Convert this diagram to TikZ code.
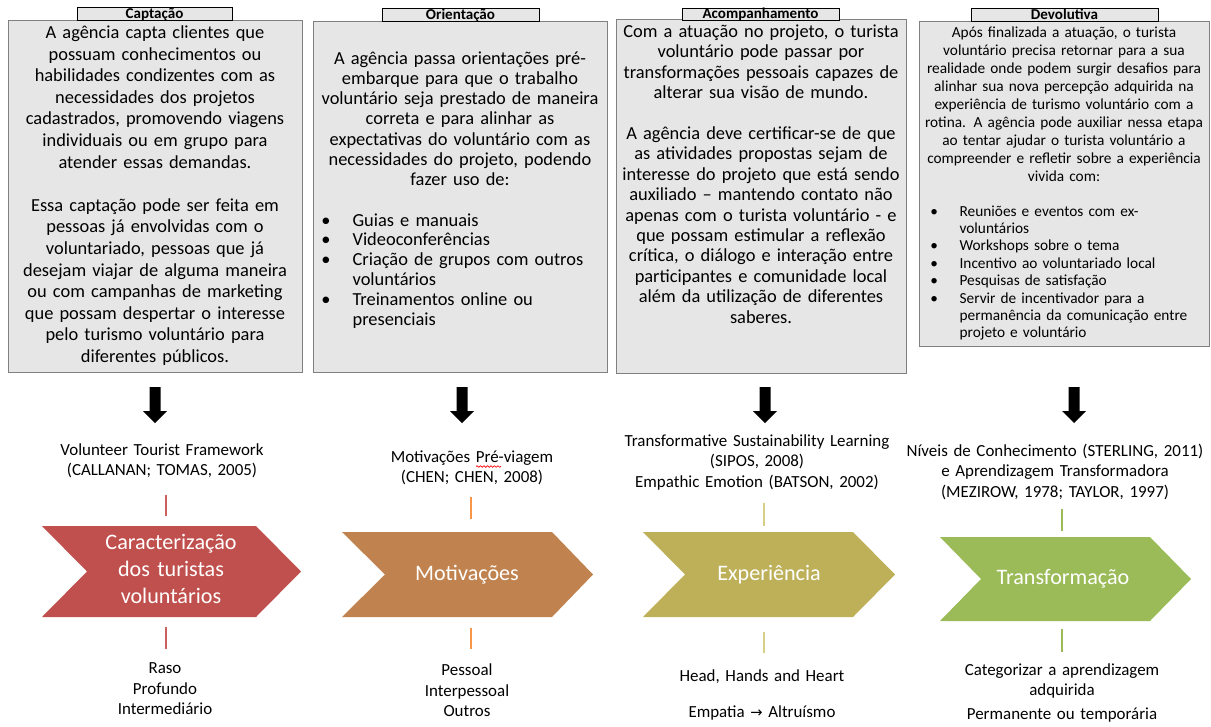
\documentclass[tikz,border=0pt]{standalone}
\usepackage{fontspec}
\setmainfont{Carlito}
\newfontfamily\symbolfont{DejaVu Sans}
\usetikzlibrary{fit,decorations.pathmorphing}

\definecolor{boxfill}{HTML}{E6E6E6}
\definecolor{boxline}{HTML}{808080}
\definecolor{chevA}{HTML}{C0504D}
\definecolor{chevB}{HTML}{C0834F}
\definecolor{chevC}{HTML}{BDB059}
\definecolor{chevD}{HTML}{9BBB59}
\definecolor{lineA}{HTML}{C9605D}
\definecolor{lineB}{HTML}{F79646}
\definecolor{lineC}{HTML}{D6CF85}
\definecolor{lineD}{HTML}{9BBB59}

\begin{document}
\begin{tikzpicture}[x=0.75pt,y=-0.75pt,
  panel/.style={draw=boxline, fill=boxfill, line width=0.75pt, inner sep=0pt},
  tabbox/.style={draw=black, fill=boxfill, line width=0.75pt, inner sep=0pt},
  tabtext/.style={anchor=base, inner sep=0pt, font=\bfseries\fontsize{11.3pt}{13pt}\selectfont},
  bodytext/.style={anchor=base, inner sep=0pt, align=center, text width=#1},
  listtext/.style={anchor=base west, inner sep=0pt, align=left, text width=#1},
  bigfont/.style={font=\fontsize{13.8pt}{#1}\selectfont},
  smallfont/.style={font=\fontsize{11.5pt}{#1}\selectfont},
  labeltext/.style={anchor=base, inner sep=0pt, align=center, text width=225pt,
    font=\fontsize{12.7pt}{15.5pt}\selectfont},
  chevtext/.style={anchor=base, inner sep=0pt, align=center, text width=150pt,
    text=white, font=\fontsize{16.6pt}{20.3pt}\selectfont},
  stem/.style={line width=0.9pt},
  blockdown/.pic={\fill[black] (-5.5,0) -- (5.5,0) -- (5.5,24) -- (12,24) -- (0,36)
      -- (-12,24) -- (-5.5,24) -- cycle;}
]
\fill[white] (0,0) rectangle (1211,726);
\useasboundingbox (0,0) rectangle (1211,726);

% ---------- panels ----------
\node[panel, fit={(8,20) (302,372)}] (p1) {};
\node[panel, fit={(313,21) (607,372)}] (p2) {};
\node[panel, fit={(616,19) (906,373)}] (p3) {};
\node[panel, fit={(919,21) (1209,346)}] (p4) {};

% ---------- panel tabs ----------
\node[tabbox, fit={(77,7) (232,20)}] (tb1) {};
\node[tabbox, fit={(382,8) (539,21)}] (tb2) {};
\node[tabbox, fit={(682,8) (839,20)}] (tb3) {};
\node[tabbox, fit={(971,8) (1158,21)}] (tb4) {};
\node[tabtext] (tt1) at (154.5,18.5) {Captação};
\node[tabtext] (tt2) at (460.5,19) {Orientação};
\node[tabtext] (tt3) at (760.5,18.5) {Acompanhamento};
\node[tabtext] (tt4) at (1064.5,19) {Devolutiva};

% ---------- panel texts ----------
\node[bodytext=217.5pt, bigfont=16.2pt] (x1) at (155,38.5) {%
A agência capta clientes que\\
possuam conhecimentos ou\\
habilidades condizentes com as\\
necessidades dos projetos\\
cadastrados, promovendo viagens\\
individuais ou em grupo para\\
atender essas demandas.\\[16.2pt]
Essa captação pode ser feita em\\
pessoas já envolvidas com o\\
voluntariado, pessoas que já\\
desejam viajar de alguma maneira\\
ou com campanhas de marketing\\
que possam despertar o interesse\\
pelo turismo voluntário para\\
diferentes públicos.};

\node[bodytext=217.5pt, bigfont=15.2pt] (x2) at (460,64) {%
A agência passa orientações pré-\\
embarque para que o trabalho\\
voluntário seja prestado de maneira\\
correta e para alinhar as\\
expectativas do voluntário com as\\
necessidades do projeto, podendo\\
fazer uso de:};
\node[listtext=210pt, bigfont=14.85pt] (y2) at (321,226) {%
\makebox[23.5pt][l]{•}Guias e manuais\\
\makebox[23.5pt][l]{•}Videoconferências\\
\makebox[23.5pt][l]{•}Criação de grupos com outros\\
\hspace*{23.5pt}voluntários\\
\makebox[23.5pt][l]{•}Treinamentos online ou\\
\hspace*{23.5pt}presenciais};

\node[bodytext=214pt, bigfont=15.3pt] (x3) at (761,37.5) {%
Com a atuação no projeto, o turista\\
voluntário pode passar por\\
transformações pessoais capazes de\\
alterar sua visão de mundo.\\[15.3pt]
A agência deve certificar-se de que\\
as atividades propostas sejam de\\
interesse do projeto que está sendo\\
auxiliado – mantendo contato não\\
apenas com o turista voluntário - e\\
que possam estimular a reflexão\\
crítica, o diálogo e interação entre\\
participantes e comunidade local\\
além da utilização de diferentes\\
saberes.};

\node[bodytext=217.5pt, smallfont=13.5pt] (x4) at (1064,37.5) {%
Após finalizada a atuação, o turista\\
voluntário precisa retornar para a sua\\
realidade onde podem surgir desafios para\\
alinhar sua nova percepção adquirida na\\
experiência de turismo voluntário com a\\
rotina. A agência pode auxiliar nessa etapa\\
ao tentar ajudar o turista voluntário a\\
compreender e refletir sobre a experiência\\
vivida com:};
\node[listtext=210pt, smallfont=13.05pt] (y4) at (930,216) {%
\makebox[22pt][l]{•}Reuniões e eventos com ex-\\
\hspace*{22pt}voluntários\\
\makebox[22pt][l]{•}Workshops sobre o tema\\
\makebox[22pt][l]{•}Incentivo ao voluntariado local\\
\makebox[22pt][l]{•}Pesquisas de satisfação\\
\makebox[22pt][l]{•}Servir de incentivador para a\\
\hspace*{22pt}permanência da comunicação entre\\
\hspace*{22pt}projeto e voluntário};

% ---------- block arrows below the panels ----------
\pic at (155,387) {blockdown};
\pic at (462,387) {blockdown};
\pic at (765,387) {blockdown};
\pic at (1074,387) {blockdown};

% ---------- references above the chevrons ----------
\node[labeltext] (r1) at (162,455) {Volunteer Tourist Framework\\(CALLANAN; TOMAS, 2005)};
\node[labeltext] (r2) at (472,462) {Motivações Pré-viagem\\(CHEN; CHEN, 2008)};
\node[labeltext] (r3) at (757,446) {Transformative Sustainability Learning\\(SIPOS, 2008)\\Empathic Emotion (BATSON, 2002)};
\node[labeltext] (r4) at (1055,456) {Níveis de Conhecimento (STERLING, 2011)\\e Aprendizagem Transformadora\\(MEZIROW, 1978; TAYLOR, 1997)};
\draw[red, line width=0.5pt, decorate, decoration={snake, amplitude=0.6pt, segment length=2.6pt}]
  (476,466.5) -- (501,466.5);

% ---------- chevrons ----------
\fill[chevA] (42,526) -- (256,526) -- (301,571.5) -- (256,617) -- (42,617) -- (87,571.5) -- cycle;
\fill[chevB] (342,532) -- (552,532) -- (593,574.5) -- (552,617) -- (342,617) -- (385,574.5) -- cycle;
\fill[chevC] (643,532) -- (853,532) -- (895,574.5) -- (853,617) -- (643,617) -- (685,574.5) -- cycle;
\fill[chevD] (940,537) -- (1150,537) -- (1191,579) -- (1150,621) -- (940,621) -- (981,579) -- cycle;

\node[chevtext] (c1) at (171,549.5) {Caracterização\\dos turistas\\voluntários};
\node[chevtext] (c2) at (467,580.5) {Motivações};
\node[chevtext] (c3) at (769,580.5) {Experiência};
\node[chevtext] (c4) at (1063,584.5) {Transformação};

% ---------- stems between references, chevrons and outcomes ----------
\coordinate (s1a) at (166,495);  \coordinate (s1b) at (166,516);
\coordinate (s1c) at (166,627);  \coordinate (s1d) at (166,649);
\coordinate (s2a) at (471,497);  \coordinate (s2b) at (471,519);
\coordinate (s2c) at (471,628);  \coordinate (s2d) at (471,649);
\coordinate (s3a) at (764,503);  \coordinate (s3b) at (764,526);
\coordinate (s3c) at (764,632);  \coordinate (s3d) at (764,653);
\coordinate (s4a) at (1062,509); \coordinate (s4b) at (1062,531);
\coordinate (s4c) at (1062,629); \coordinate (s4d) at (1062,652);
\draw[stem, lineA] (s1a) -- (s1b) (s1c) -- (s1d);
\draw[stem, lineB] (s2a) -- (s2b) (s2c) -- (s2d);
\draw[stem, lineC] (s3a) -- (s3b) (s3c) -- (s3d);
\draw[stem, lineD] (s4a) -- (s4b) (s4c) -- (s4d);

% ---------- outcomes ----------
\node[labeltext] (o1) at (165,673.5) {Raso\\Profundo\\Intermediário};
\node[labeltext] (o2) at (467,675.5) {Pessoal\\Interpessoal\\Outros};
\node[labeltext] (o3a) at (762,681) {Head, Hands and Heart};
\node[labeltext] (o3b) at (762,717) {Empatia {\symbolfont\fontsize{11pt}{13pt}\selectfont →} Altruísmo};
\node[labeltext] (o4a) at (1062,675) {Categorizar a aprendizagem\\adquirida};
\node[labeltext] (o4b) at (1062,719) {Permanente ou temporária};
\end{tikzpicture}
\end{document}
